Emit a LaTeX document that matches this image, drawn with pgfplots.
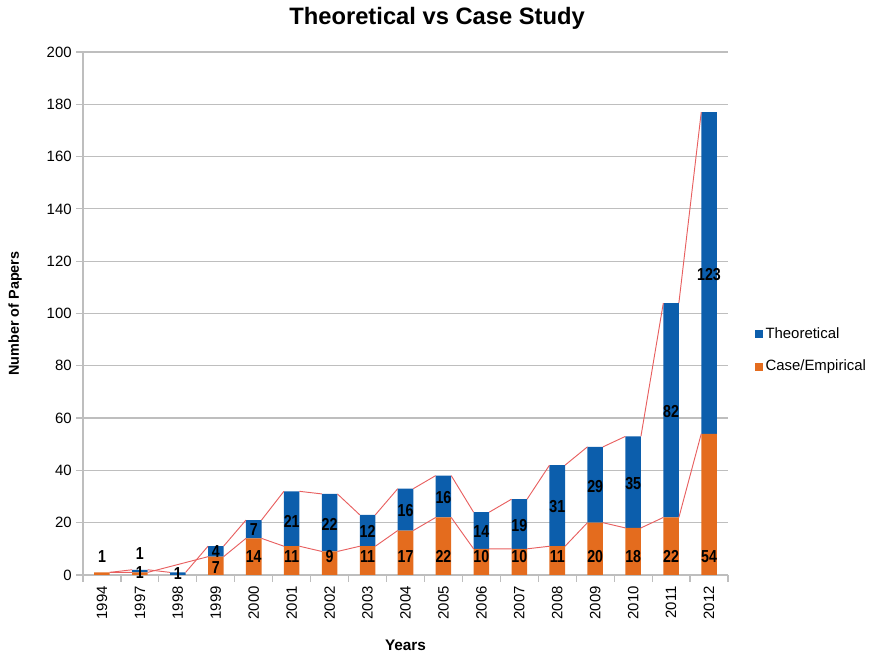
\documentclass[border=0pt]{standalone}
\usepackage{fontspec}
\setmainfont{Liberation Sans}
\newfontfamily\narrowfont[FakeStretch=0.82]{Liberation Sans}
\usepackage{pgfplots}
\usepackage{pgfplotstable}
\pgfplotsset{compat=1.18}
\definecolor{theo}{RGB}{12,94,172}
\definecolor{cas}{RGB}{228,108,30}
\definecolor{ser}{RGB}{232,96,96}
\definecolor{gridc}{RGB}{190,190,190}

\pgfplotstableread{
x case theo
0 1 0
1 1 1
2 0 1
3 7 4
4 14 7
5 11 21
6 9 22
7 11 12
8 17 16
9 22 16
10 10 14
11 10 19
12 11 31
13 20 29
14 18 35
15 22 82
16 54 123
}\bars

\pgfplotstableread{
x y lab
0 7 1
1 8.2 1
1 1.0 1
2 0.5 1
3 2.7 7
3 9 4
4 7 14
4 17.5 7
5 7 11
5 20.5 21
6 7 9
6 19.5 22
7 7 11
7 16.5 12
8 7 17
8 24.5 16
9 7 22
9 29.5 16
10 7 10
10 16.5 14
11 7 10
11 19 19
12 7 11
12 26 31
13 7 20
13 34 29
14 7 18
14 35 35
15 7 22
15 62.5 82
16 7 54
16 115 123
}\labels

\pgfplotsset{base/.style={scale only axis, width=483.75pt, height=392.25pt,
  xmin=-0.5, xmax=16.5, ymin=0, ymax=200}}

\begin{document}
\begin{tikzpicture}
\useasboundingbox (-62.25pt,-60pt) rectangle (598.5pt,431.25pt);
\begin{axis}[base,
  ybar stacked, bar width=0.41,
  axis x line*=bottom, axis y line*=left,
  axis line style={gridc, line width=0.9pt},
  ytick={0,20,...,200},
  ymajorgrids, grid style={gridc, line width=0.9pt},
  tick align=outside, major tick length=5pt,
  tick style={gridc, line width=0.9pt},
  xtick={-0.5,0.5,...,16.5},
  x tick label as interval,
  xticklabels={1994,1997,1998,1999,2000,2001,2002,2003,2004,2005,2006,2007,2008,2009,2010,2011,2012},
  xticklabel style={rotate=90, anchor=east, font=\fontsize{11.2}{13}\selectfont},
  yticklabel style={font=\fontsize{11.2}{13}\selectfont},
  /pgf/number format/assume math mode=true,
  every axis title shift=0pt,
  title={Theoretical vs Case Study},
  title style={at={(axis description cs:0.549,1.065)}, anchor=center, font=\bfseries\fontsize{17.8}{20}\selectfont},
  xlabel={Years},
  xlabel style={at={(axis description cs:0.5,-0.134)}, anchor=center, font=\bfseries\fontsize{11.5}{13}\selectfont},
  ylabel={Number of Papers},
  ylabel style={at={(axis description cs:-0.105,0.5)}, anchor=center, font=\bfseries\fontsize{10.8}{12}\selectfont},
  reverse legend,
  legend cell align=left,
  legend style={at={(1.035,0.43)}, anchor=west, draw=none, fill=none, font=\fontsize{11.2}{13}\selectfont, row sep=11pt},
  legend image code/.code={\fill[#1] (0pt,-3pt) rectangle (6pt,3pt);},
]
\addplot[fill=cas, draw=none] table[x=x, y=case] {\bars};
\addlegendentry{Case/Empirical}
\addplot[fill=theo, draw=none] table[x=x, y=theo] {\bars};
\addlegendentry{Theoretical}
\end{axis}
\begin{axis}[base, hide axis, clip=false, unbounded coords=jump]
% series line: Case/Empirical (1998 has no value)
\addplot[ser, line width=0.7pt, mark=none] coordinates {
 (0.205,1) (0.795,1) (1,nan)
 (1.205,1) (2.795,7) (3,nan)
 (3.205,7) (3.795,14) (4,nan)
 (4.205,14) (4.795,11) (5,nan)
 (5.205,11) (5.795,9) (6,nan)
 (6.205,9) (6.795,11) (7,nan)
 (7.205,11) (7.795,17) (8,nan)
 (8.205,17) (8.795,22) (9,nan)
 (9.205,22) (9.795,10) (10,nan)
 (10.205,10) (10.795,10) (11,nan)
 (11.205,10) (11.795,11) (12,nan)
 (12.205,11) (12.795,20) (13,nan)
 (13.205,20) (13.795,18) (14,nan)
 (14.205,18) (14.795,22) (15,nan)
 (15.205,22) (15.795,54)
};
% series line: top of stacks
\addplot[ser, line width=0.7pt, mark=none] coordinates {
 (0.205,1) (0.795,2) (1,nan)
 (1.205,2) (1.795,1) (2,nan)
 (2.205,1) (2.795,11) (3,nan)
 (3.205,11) (3.795,21) (4,nan)
 (4.205,21) (4.795,32) (5,nan)
 (5.205,32) (5.795,31) (6,nan)
 (6.205,31) (6.795,23) (7,nan)
 (7.205,23) (7.795,33) (8,nan)
 (8.205,33) (8.795,38) (9,nan)
 (9.205,38) (9.795,24) (10,nan)
 (10.205,24) (10.795,29) (11,nan)
 (11.205,29) (11.795,42) (12,nan)
 (12.205,42) (12.795,49) (13,nan)
 (13.205,49) (13.795,53) (14,nan)
 (14.205,53) (14.795,104) (15,nan)
 (15.205,104) (15.795,177)
};
\addplot[draw=none, mark=none, nodes near coords, point meta=explicit symbolic,
  nodes near coords style={anchor=center, inner sep=0pt, font=\narrowfont\bfseries\fontsize{13}{15}\selectfont, text=black}]
  table[x=x, y=y, meta=lab] {\labels};
\end{axis}
\end{tikzpicture}
\end{document}
